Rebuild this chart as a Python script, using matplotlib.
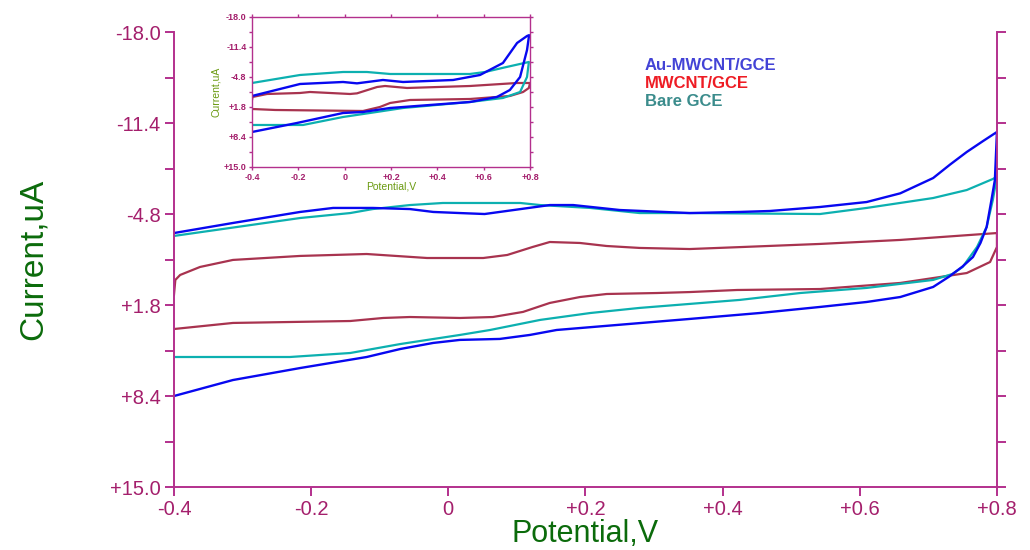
import numpy as np
import matplotlib
matplotlib.use("Agg")
import matplotlib.pyplot as plt
from matplotlib.ticker import FixedLocator

plt.rcParams['font.family'] = ['Liberation Sans', 'DejaVu Sans']

# main plot data (potential V, current uA)
au_up_x = [-0.4, -0.314, -0.216, -0.168, -0.11, -0.056, -0.022, 0.017, 0.053, 0.148, 0.182, 0.25,
           0.352, 0.425, 0.469, 0.542, 0.61, 0.659, 0.707, 0.732, 0.756, 0.78, 0.8]
au_up_y = [-3.42, -4.15, -4.95, -5.24, -5.24, -5.16, -4.95, -4.87, -4.80, -5.45, -5.45, -5.09,
           -4.87, -4.95, -5.02, -5.31, -5.67, -6.3, -7.41, -8.4, -9.3, -10.1, -10.75]
au_lo_x = [-0.4, -0.314, -0.216, -0.119, -0.070, -0.022, 0.017, 0.075, 0.119, 0.158, 0.352, 0.454,
           0.542, 0.610, 0.659, 0.707, 0.730, 0.750, 0.765, 0.776, 0.785, 0.792, 0.797, 0.8]
au_lo_y = [8.40, 7.24, 6.37, 5.57, 4.99, 4.55, 4.33, 4.26, 3.97, 3.61, 2.81, 2.38,
           1.94, 1.58, 1.22, 0.49, -0.25, -1.0, -1.68, -2.7, -3.86, -5.82, -7.27, -10.75]

bare_up_x = [-0.4, -0.216, -0.143, -0.11, -0.056, -0.008, 0.105, 0.134, 0.207, 0.279, 0.352,
             0.542, 0.61, 0.707, 0.756, 0.794, 0.8]
bare_up_y = [-3.21, -4.51, -4.87, -5.16, -5.45, -5.60, -5.60, -5.45, -5.24, -4.87, -4.87,
             -4.80, -5.24, -5.96, -6.54, -7.34, -7.5]
bare_lo_x = [-0.4, -0.231, -0.143, -0.070, 0.017, 0.061, 0.134, 0.207, 0.279, 0.352, 0.425,
             0.513, 0.610, 0.707, 0.735, 0.750, 0.771, 0.785, 0.794, 0.8]
bare_lo_y = [5.57, 5.57, 5.28, 4.63, 3.97, 3.61, 2.88, 2.38, 2.01, 1.72, 1.43,
             0.93, 0.56, -0.02, -0.45, -0.96, -2.41, -3.86, -5.82, -7.5]

mw_up_x = [-0.4, -0.398, -0.391, -0.362, -0.314, -0.216, -0.119, -0.031, 0.051, 0.086, 0.123,
           0.148, 0.192, 0.231, 0.279, 0.352, 0.430, 0.542, 0.659, 0.8]
mw_up_y = [1.07, -0.02, -0.38, -0.96, -1.47, -1.76, -1.90, -1.61, -1.61, -1.83, -2.41,
           -2.77, -2.70, -2.48, -2.34, -2.26, -2.41, -2.63, -2.92, -3.42]
mw_lo_x = [-0.4, -0.314, -0.143, -0.095, -0.056, 0.017, 0.065, 0.109, 0.148, 0.192, 0.231,
           0.304, 0.352, 0.421, 0.542, 0.659, 0.756, 0.790, 0.8]
mw_lo_y = [3.54, 3.10, 2.96, 2.74, 2.67, 2.74, 2.67, 2.30, 1.65, 1.22, 1.00,
           0.93, 0.86, 0.71, 0.64, 0.20, -0.52, -1.32, -2.41]

# inset data
in_au_up_x = [-0.4, -0.193, -0.007, 0.053, 0.165, 0.252, 0.468, 0.584, 0.683, 0.744, 0.787, 0.796]
in_au_up_y = [-0.62, -3.26, -3.70, -3.40, -4.14, -3.70, -4.14, -5.24, -7.88, -12.28, -13.82, -14.0]
in_au_lo_x = [-0.4, -0.206, -0.007, 0.079, 0.196, 0.541, 0.657, 0.713, 0.757, 0.787, 0.796]
in_au_lo_y = [7.30, 5.32, 3.12, 2.90, 2.02, 0.70, -0.40, -1.94, -4.80, -10.74, -14.0]

in_bare_up_x = [-0.4, -0.193, -0.007, 0.096, 0.196, 0.54, 0.606, 0.69, 0.795]
in_bare_up_y = [-3.48, -5.24, -5.90, -5.90, -5.46, -5.46, -5.90, -6.9, -8.10]
in_bare_lo_x = [-0.4, -0.18, -0.007, 0.109, 0.252, 0.541, 0.683, 0.757, 0.787, 0.795]
in_bare_lo_y = [5.76, 5.76, 4.0, 3.12, 2.02, 0.70, -0.18, -1.50, -4.8, -8.10]

in_mw_up_x = [-0.4, -0.398, -0.335, -0.193, -0.15, 0.023, 0.053, 0.14, 0.174, 0.269, 0.541, 0.744, 0.8]
in_mw_up_y = [0.2, -0.40, -1.06, -1.28, -1.50, -1.06, -1.2, -2.60, -2.82, -2.38, -2.82, -3.48, -3.48]
in_mw_lo_x = [-0.4, -0.3, 0.079, 0.152, 0.196, 0.282, 0.541, 0.713, 0.77, 0.795, 0.8]
in_mw_lo_y = [2.24, 2.46, 2.68, 1.80, 0.92, 0.26, 0.04, -0.62, -1.50, -2.38, -3.48]

yticks = [-18.0, -11.4, -4.8, 1.8, 8.4, 15.0]
ytick_labels = ['-18.0', '-11.4', '-4.8', '+1.8', '+8.4', '+15.0']
yminor = [-14.7, -8.1, -1.5, 5.1, 11.7]
xticks = [-0.4, -0.2, 0.0, 0.2, 0.4, 0.6, 0.8]
xtick_labels = ['-0.4', '-0.2', '0', '+0.2', '+0.4', '+0.6', '+0.8']

names = ['Au-MWCNT/GCE', 'MWCNT/GCE', 'Bare GCE']
name_colors = ['#4343d6', '#ee1c24', '#3b8c8c']

c_au = '#0808f0'
c_mw = '#a8334f'
c_bare = '#0cb0b0'
c_axis = '#b3308d'
c_tick = '#a41f6c'
c_label = '#0b6b0b'


def loop(up_x, up_y, lo_x, lo_y):
    # lower branch forward, upper branch back
    x = np.concatenate([lo_x, up_x[::-1]])
    y = np.concatenate([lo_y, up_y[::-1]])
    return x, y


def style_axes(ax, fs, tl, lw, top):
    for s in ['left', 'bottom', 'right']:
        ax.spines[s].set_color(c_axis)
        ax.spines[s].set_linewidth(lw)
    ax.spines['top'].set_visible(top)
    ax.spines['top'].set_color(c_axis)
    ax.spines['top'].set_linewidth(lw)
    ax.set_xlim(-0.4, 0.8)
    ax.set_ylim(15, -18)
    ax.set_yticks(yticks)
    ax.set_yticklabels(ytick_labels)
    ax.yaxis.set_minor_locator(FixedLocator(yminor))
    ax.set_xticks(xticks)
    ax.set_xticklabels(xtick_labels)
    ax.tick_params(axis='both', which='both', direction='out', color=c_axis,
                   width=lw, length=tl, labelcolor=c_tick, labelsize=fs)
    ax.tick_params(axis='y', which='both', right=True, left=True)
    ax.tick_params(axis='x', which='both', top=top)


fig = plt.figure(figsize=(10.3, 5.5), dpi=100)
ax = fig.add_axes([0.1689, 0.1145, 0.7990, 0.8273])
style_axes(ax, 14.5, 6.5, 1.4, False)
ax.tick_params(axis='both', pad=3)

x, y = loop(mw_up_x, mw_up_y, mw_lo_x, mw_lo_y)
ax.plot(x, y, color=c_mw, lw=1.6)
x, y = loop(bare_up_x, bare_up_y, bare_lo_x, bare_lo_y)
ax.plot(x, y, color=c_bare, lw=1.6)
x, y = loop(au_up_x, au_up_y, au_lo_x, au_lo_y)
ax.plot(x, y, color=c_au, lw=1.7)

ax.set_xlabel('Potential,V', fontsize=22, color=c_label, labelpad=0)
ax.set_ylabel('Current,uA', fontsize=24, color=c_label, labelpad=44)

for i, (n, c) in enumerate(zip(names, name_colors)):
    fig.text(645 / 1030, 1 - (66 + 18 * i) / 550, n, color=c, fontsize=12,
             fontweight='bold', va='center', ha='left')

# inset
axi = fig.add_axes([0.2447, 0.6964, 0.2699, 0.2727])
style_axes(axi, 6.5, 2.5, 1.0, True)
axi.tick_params(axis='both', pad=1.5)
for t in axi.get_xticklabels() + axi.get_yticklabels():
    t.set_fontweight('bold')

x, y = loop(in_mw_up_x, in_mw_up_y, in_mw_lo_x, in_mw_lo_y)
axi.plot(x, y, color=c_mw, lw=1.6)
x, y = loop(in_bare_up_x, in_bare_up_y, in_bare_lo_x, in_bare_lo_y)
axi.plot(x, y, color=c_bare, lw=1.6)
x, y = loop(in_au_up_x, in_au_up_y, in_au_lo_x, in_au_lo_y)
axi.plot(x, y, color=c_au, lw=1.7)

axi.set_xlabel('Potential,V', fontsize=7.5, color='#6a9a10', labelpad=0)
axi.set_ylabel('Current,uA', fontsize=7.5, color='#6a9a10', labelpad=2)

fig.savefig('out.png', dpi=100, facecolor='white')
